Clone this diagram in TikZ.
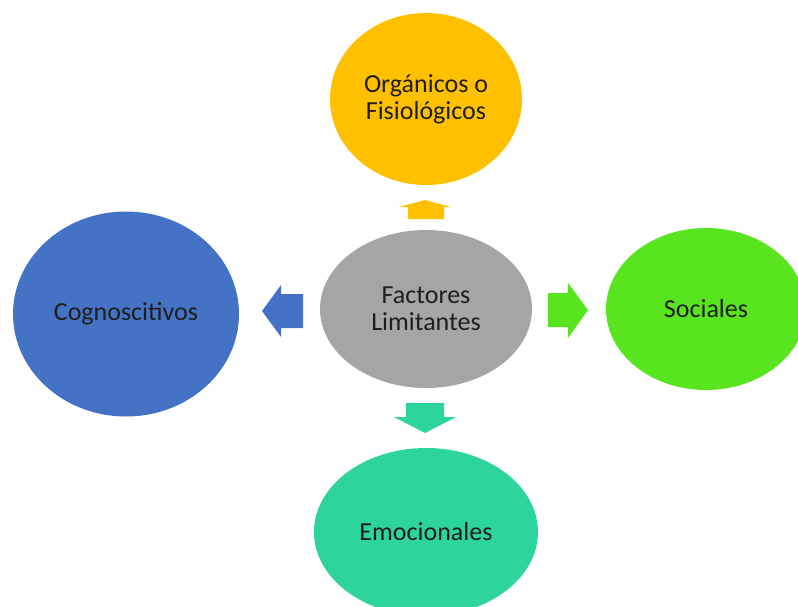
\documentclass[tikz,border=0pt]{standalone}
\usepackage{fontspec}
\setmainfont{Carlito}
\usetikzlibrary{shapes.geometric}
\definecolor{cgold}{HTML}{FFC000}
\definecolor{cgray}{HTML}{A5A5A5}
\definecolor{cblue}{HTML}{4472C4}
\definecolor{cgreen}{HTML}{58E41E}
\definecolor{cteal}{HTML}{2ED49E}
\definecolor{ctext}{HTML}{1E1E1E}
\tikzset{
  blob/.style={ellipse, inner sep=0pt, text=ctext, align=center,
    font=\fontsize{26}{27}\selectfont},
}
\begin{document}
\begin{tikzpicture}[x=1pt,y=-1pt]
\useasboundingbox (0,0) rectangle (798,606);
\clip (0,0) rectangle (798,606);
% ellipses
\node[blob, fill=cgold, minimum width=192pt, minimum height=172pt] (org) at (426,99) {Orgánicos o\\Fisiológicos};
\node[blob, fill=cgray, minimum width=212pt, minimum height=158pt] (fac) at (426,309) {Factores\\Limitantes};
\node[blob, fill=cblue, minimum width=226pt, minimum height=205pt] (cog) at (126,314) {Cognoscitivos};
\node[blob, fill=cgreen, minimum width=200pt, minimum height=162pt] (soc) at (706,309) {Sociales};
\node[blob, fill=cteal, minimum width=224pt, minimum height=168pt] (emo) at (426,532) {Emocionales};
% block arrows
\fill[cgold] (425,200) -- (451,207) -- (444,207) -- (444,219) -- (408,219) -- (408,207) -- (399,207) -- cycle;
\fill[cblue] (262,311) -- (281,285) -- (281,294) -- (303,294) -- (303,328) -- (281,328) -- (281,337) -- cycle;
\fill[cgreen] (588,310) -- (568,283) -- (568,293) -- (548,293) -- (548,327) -- (568,327) -- (568,338) -- cycle;
\fill[cteal] (425,433) -- (456,417) -- (444,417) -- (444,403) -- (406,403) -- (406,417) -- (394,417) -- cycle;
\end{tikzpicture}
\end{document}
